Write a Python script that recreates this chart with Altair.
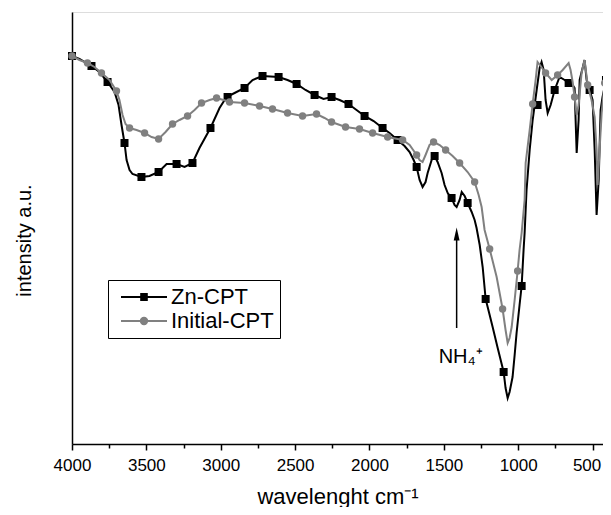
import altair as alt
import pandas as pd

# ---- Zn-CPT (black) line trace ----
zn_wn = [4000, 3950, 3869, 3815, 3761, 3714, 3687, 3667, 3647, 3633, 3613, 3593, 3533, 3479, 3418,
         3364, 3297, 3243, 3190, 3143, 3069, 3008, 2961, 2907, 2840, 2786, 2719, 2611, 2551, 2490,
         2430, 2369, 2309, 2255, 2201, 2141, 2087, 2033, 1972, 1912, 1865, 1811, 1764, 1730, 1703,
         1683, 1663, 1643, 1623, 1609, 1582, 1562, 1542, 1515, 1495, 1474, 1448, 1428, 1414, 1394,
         1380, 1360, 1340, 1313, 1293, 1280, 1259, 1239, 1219, 1192, 1172, 1138, 1098, 1085, 1071,
         1058, 1038, 1024, 1011, 991, 977, 964, 957, 944, 923, 903, 876, 856, 843, 829, 816, 802,
         782, 755, 722, 688, 661, 634, 621, 607, 594, 587, 567, 554, 540, 520, 500, 486, 473, 459,
         446, 433, 412, 406]
zn_int = [388, 385, 378, 372, 362, 352, 339, 319, 301, 284, 274, 270, 267, 268, 272,
          280, 280, 277, 281, 296, 316, 336, 347, 351, 356, 364, 368, 367, 364, 360,
          354, 349, 345, 347, 344, 340, 334, 328, 323, 316, 311, 304, 298, 292, 284,
          277, 264, 257, 262, 271, 284, 288, 282, 271, 259, 251, 246, 239, 237, 244,
          252, 248, 241, 232, 224, 216, 199, 177, 145, 129, 117, 96, 72, 56, 46,
          52, 67, 89, 111, 139, 158, 194, 211, 254, 294, 324, 354, 376, 382, 374, 344, 331,
          339, 354, 367, 364, 361, 359, 356, 291, 324, 364, 376, 384, 364, 354, 344, 294, 229, 264,
          334, 347, 362, 364]
zn_mk_wn = [4000, 3869, 3761, 3647, 3533, 3418, 3297, 3190, 3069, 2954, 2840, 2719, 2611, 2490,
            2369, 2255, 2141, 2033, 1912, 1811, 1683, 1562, 1448, 1340, 1219, 1098, 977, 870,
            755, 661, 520, 410]
zn_mk_int = [388, 378, 362, 301, 267, 272, 280, 281, 316, 347, 356, 368, 367, 360,
             349, 347, 340, 328, 316, 304, 277, 288, 246, 241, 145, 72, 158, 339,
             354, 361, 354, 364]

# ---- Initial-CPT (gray) line trace ----
init_wn = [4000, 3950, 3896, 3849, 3802, 3748, 3701, 3681, 3660, 3640, 3613, 3566, 3512, 3465, 3418,
           3371, 3324, 3277, 3223, 3176, 3129, 3075, 3028, 2981, 2941, 2840, 2739, 2652, 2551, 2450,
           2356, 2302, 2255, 2161, 2067, 1979, 1878, 1777, 1730, 1683, 1663, 1643, 1623, 1596, 1569,
           1528, 1488, 1441, 1394, 1340, 1293, 1266, 1246, 1226, 1192, 1145, 1105, 1085, 1071, 1058,
           1044, 1024, 1004, 991, 977, 957, 950, 923, 903, 883, 870, 849, 816, 775, 735, 701, 661,
           648, 634, 621, 607, 594, 574, 554, 533, 507, 486, 473, 466, 453, 439, 419, 406]
init_int = [388, 384, 381, 377, 371, 364, 353, 344, 329, 320, 316, 314, 311, 307, 305,
            312, 320, 324, 328, 334, 341, 344, 346, 344, 342, 341, 338, 335, 331, 328,
            330, 326, 322, 317, 315, 311, 307, 304, 299, 289, 284, 282, 289, 299, 302,
            299, 294, 288, 281, 272, 262, 249, 237, 214, 195, 167, 135, 114, 101, 106,
            117, 144, 173, 194, 211, 244, 281, 314, 340, 364, 382, 378, 371, 364, 369, 374, 381,
            374, 362, 347, 329, 339, 371, 384, 359, 344, 327, 294, 259, 294, 331, 361, 374]
init_mk_wn = [4000, 3896, 3802, 3701, 3613, 3512, 3418, 3324, 3223, 3129, 3028, 2941, 2840, 2739,
              2652, 2551, 2450, 2356, 2255, 2161, 2067, 1979, 1878, 1777, 1683, 1569, 1488, 1394,
              1293, 1192, 1105, 1004, 903, 816, 735, 621, 533, 419]
init_mk_int = [388, 381, 371, 353, 316, 311, 305, 320, 328, 341, 346, 342, 341, 338,
               335, 331, 328, 330, 322, 317, 315, 311, 307, 304, 289, 302, 294, 281,
               262, 195, 135, 173, 340, 371, 369, 347, 359, 361]

series_names = ["Zn-CPT", "Initial-CPT"]
series_colors = ["#000000", "#808080"]

# annotation (NH4+ arrow)
arrow_wn = [1414]
arrow_lo = [116]
arrow_hi = [206]
arrow_head = [210]
label_wn = [1535]
label_int = [81]
label_text = ["NH\u2084\u207a"]

FONT = "Liberation Sans"

zn_line = pd.DataFrame({"wn": zn_wn, "v": zn_int})
init_line = pd.DataFrame({"wn": init_wn, "v": init_int})
zn_mk = pd.DataFrame({"wn": zn_mk_wn, "v": zn_mk_int, "series": series_names[0]})
init_mk = pd.DataFrame({"wn": init_mk_wn, "v": init_mk_int, "series": series_names[1]})
all_mk = pd.concat([zn_mk, init_mk], ignore_index=True)

xscale = alt.Scale(domain=[430, 4000], reverse=True, nice=False, zero=False)
yscale = alt.Scale(domain=[0, 432], nice=False, zero=False)

major_axis = alt.Axis(values=[4000, 3500, 3000, 2500, 2000, 1500, 1000, 500], format="d",
                      orient="bottom", grid=False, tickSize=6, tickWidth=1.5, tickColor="black",
                      domainColor="black", domainWidth=1.5, labelFont=FONT, labelFontSize=17,
                      labelColor="black", labelPadding=7, labelFlush=False, labelOverlap=False,
                      labelOffset={"condition": {"test": "datum.value == 500", "value": -6},
                                   "value": 0},
                      title="wavelenght cm\u207b\u00b9",
                      titleFont=FONT, titleFontSize=22, titleFontWeight="normal",
                      titleColor="black", titlePadding=13)
minor_axis = alt.Axis(values=[3750, 3250, 2750, 2250, 1750, 1250, 750], orient="bottom",
                      grid=False, tickSize=4, tickWidth=1.5, tickColor="black", labels=False,
                      domain=False, title=None)
y_axis = alt.Axis(grid=False, ticks=False, labels=False, domainColor="black", domainWidth=1.5,
                  title="intensity a.u.", titleFont=FONT, titleFontSize=20,
                  titleFontWeight="normal", titleColor="black", titlePadding=38, titleY=228)

X_major = alt.X("wn:Q", scale=xscale, axis=major_axis)
X_minor = alt.X("wn:Q", scale=xscale, axis=minor_axis)
X_none = alt.X("wn:Q", scale=xscale, axis=None)
Y = alt.Y("v:Q", scale=yscale, axis=y_axis)

black_line = alt.Chart(zn_line).mark_line(color="black", strokeWidth=2, interpolate="linear").encode(
    x=X_major, y=Y)
black_pts = alt.Chart(zn_mk).mark_point(shape="square", filled=True, color="black", size=64,
                                        opacity=1).encode(x=X_minor, y=Y)
gray_line = alt.Chart(init_line).mark_line(color="#808080", strokeWidth=2).encode(x=X_none, y=Y)
gray_pts = alt.Chart(init_mk).mark_point(shape="circle", filled=True, color="#808080", size=55,
                                         opacity=1).encode(x=X_none, y=Y)

sq_path = "M-1,0H10.5M4.05,-0.75H5.45V0.75H4.05Z"
ci_path = "M-1,0H10.5M5.55,0A0.8,0.8,0,1,1,3.95,0A0.8,0.8,0,1,1,5.55,0Z"
legend = alt.Legend(title=None, orient="none", legendX=36, legendY=268, labelFont=FONT,
                    labelFontSize=22, labelColor="black", symbolSize=64, symbolStrokeWidth=2,
                    labelOffset=35, strokeColor="black", padding=6, rowPadding=2,
                    fillColor="white", symbolOpacity=1)
legend_layer = alt.Chart(all_mk).mark_point(filled=True, opacity=0).encode(
    x=X_none, y=Y,
    fill=alt.Fill("series:N", scale=alt.Scale(domain=series_names, range=series_colors), legend=legend),
    stroke=alt.Stroke("series:N", scale=alt.Scale(domain=series_names, range=series_colors), legend=legend),
    shape=alt.Shape("series:N", scale=alt.Scale(domain=series_names, range=[sq_path, ci_path]), legend=legend),
)

arrow_df = pd.DataFrame({"wn": arrow_wn, "lo": arrow_lo, "hi": arrow_hi, "head": arrow_head})
arrow_rule = alt.Chart(arrow_df).mark_rule(color="black", strokeWidth=1.5).encode(
    x=X_none, y=alt.Y("lo:Q", scale=yscale, axis=y_axis), y2="hi:Q")
arrow_tip = alt.Chart(arrow_df).mark_point(shape="M0,-1L0.45,1L-0.45,1Z", filled=True,
                                           color="black", size=169, opacity=1).encode(
    x=X_none, y=alt.Y("head:Q", scale=yscale, axis=y_axis))
label_df = pd.DataFrame({"wn": label_wn, "v": label_int, "t": label_text})
label = alt.Chart(label_df).mark_text(align="left", baseline="alphabetic", font=FONT,
                                      fontSize=20, color="black").encode(x=X_none, y=Y, text="t:N")

chart = alt.layer(black_line, black_pts, gray_line, gray_pts, legend_layer, arrow_rule, arrow_tip,
                  label).resolve_axis(x="independent").properties(
    width=531, height=432,
    padding={"left": 64, "top": 4, "right": 0, "bottom": 63},
    autosize=alt.AutoSizeParams(type="none"),
).configure_view(stroke=None).configure(background="white")

chart.save("out.html", embed_options={"renderer": "svg", "actions": False})
